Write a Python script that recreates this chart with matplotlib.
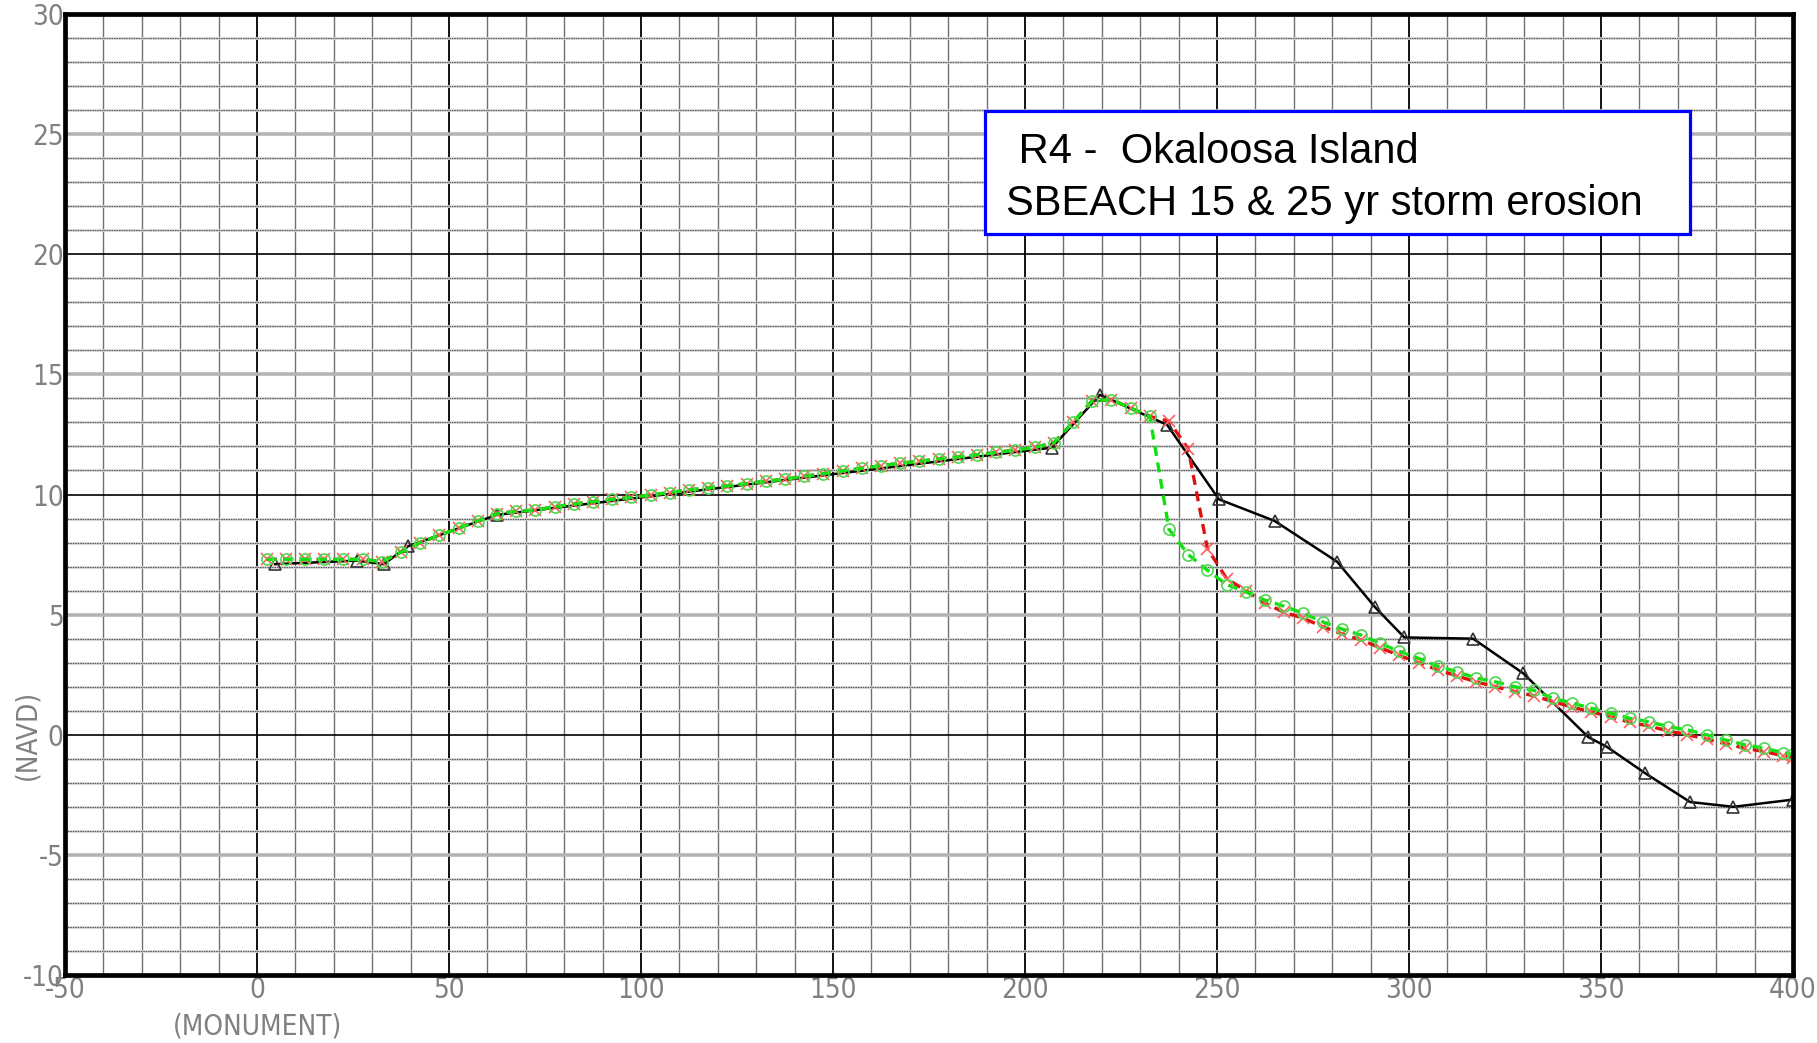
import matplotlib
matplotlib.use('Agg')
import matplotlib.pyplot as plt
from matplotlib.patches import Rectangle
import matplotlib.transforms as mtransforms
import numpy as np

# исходный профиль (съёмка) - чёрная линия с треугольниками
profile_x = [4.7, 26, 33, 39.4, 62.4, 207, 219.5, 237, 250.5, 265, 281.3,
             291.2, 298.8, 316.7, 329.8, 346.7, 351.5, 361.5, 373.2, 384.5, 400]
profile_y = [7.1, 7.25, 7.1, 7.85, 9.15, 11.95, 14.15, 12.9, 9.8, 8.9, 7.2,
             5.3, 4.05, 4.0, 2.55, -0.1, -0.5, -1.6, -2.8, -3.0, -2.7]

# узлы сетки SBEACH (шаг 5 ft)
sbeach_x = [2.5, 7.5, 12.5, 17.5, 22.5, 27.5, 32.5, 37.5, 42.5, 47.5,
            52.5, 57.5, 62.5, 67.5, 72.5, 77.5, 82.5, 87.5, 92.5, 97.5,
            102.5, 107.5, 112.5, 117.5, 122.5, 127.5, 132.5, 137.5, 142.5, 147.5,
            152.5, 157.5, 162.5, 167.5, 172.5, 177.5, 182.5, 187.5, 192.5, 197.5,
            202.5, 207.5, 212.5, 217.5, 222.5, 227.5, 232.5, 237.5, 242.5, 247.5,
            252.5, 257.5, 262.5, 267.5, 272.5, 277.5, 282.5, 287.5, 292.5, 297.5,
            302.5, 307.5, 312.5, 317.5, 322.5, 327.5, 332.5, 337.5, 342.5, 347.5,
            352.5, 357.5, 362.5, 367.5, 372.5, 377.5, 382.5, 387.5, 392.5, 397.5, 400]

# 15-летний шторм (зелёный)
storm15_y = [7.3, 7.3, 7.3, 7.3, 7.3, 7.3, 7.2, 7.6, 8.0, 8.3,
             8.6, 8.9, 9.2, 9.3, 9.35, 9.49, 9.6, 9.7, 9.8, 9.88,
             9.98, 10.08, 10.19, 10.27, 10.36, 10.45, 10.55, 10.64, 10.75, 10.87,
             10.98, 11.09, 11.2, 11.3, 11.38, 11.48, 11.56, 11.65, 11.75, 11.85,
             11.96, 12.15, 13.0, 13.9, 13.95, 13.6, 13.25, 8.55, 7.5, 6.85,
             6.25, 5.95, 5.6, 5.35, 5.05, 4.7, 4.4, 4.15, 3.8, 3.47,
             3.18, 2.85, 2.62, 2.36, 2.2, 2.0, 1.85, 1.52, 1.32, 1.1,
             0.9, 0.68, 0.54, 0.34, 0.2, 0.0, -0.22, -0.42, -0.56, -0.75, -0.82]

# 25-летний шторм (красный)
storm25_y = [7.3, 7.3, 7.3, 7.3, 7.3, 7.3, 7.2, 7.6, 8.0, 8.3,
             8.6, 8.9, 9.2, 9.3, 9.35, 9.49, 9.6, 9.7, 9.8, 9.88,
             9.98, 10.08, 10.19, 10.27, 10.36, 10.45, 10.55, 10.64, 10.75, 10.87,
             10.98, 11.09, 11.2, 11.3, 11.38, 11.48, 11.56, 11.65, 11.75, 11.85,
             11.96, 12.15, 13.0, 13.9, 13.95, 13.6, 13.25, 13.05, 11.9, 7.75,
             6.5, 6.0, 5.47, 5.1, 4.85, 4.5, 4.2, 3.95, 3.62, 3.3,
             3.0, 2.7, 2.45, 2.2, 2.0, 1.8, 1.62, 1.38, 1.15, 0.95,
             0.75, 0.52, 0.36, 0.16, 0.0, -0.18, -0.38, -0.56, -0.7, -0.88, -0.95]

x_ticks = [-50, 0, 50, 100, 150, 200, 250, 300, 350, 400]
y_ticks = [-10, -5, 0, 5, 10, 15, 20, 25, 30]

title_lines = [' R4 -  Okaloosa Island', 'SBEACH 15 & 25 yr storm erosion']

plt.rcParams['font.family'] = ['DejaVu Sans']
plt.rcParams['font.stretch'] = 'condensed'

fig = plt.figure(figsize=(18.17, 10.43), dpi=100)
ax = fig.add_axes([65 / 1817, 1 - 975 / 1043, 1728 / 1817, 961 / 1043])
ax.set_xlim(-50, 400)
ax.set_ylim(-10, 30)

# сетка в стиле CAD-чертежа
for xv in np.arange(-50, 401, 10):
    if xv % 50 == 0:
        ax.axvline(xv, color='black', lw=1.3, zorder=1)
    else:
        ax.axvline(xv, color='#707070', lw=1.0, zorder=1)
for yv in np.arange(-10, 31, 1):
    if yv % 10 == 0:
        ax.axhline(yv, color='black', lw=1.2, zorder=1)
    elif yv % 5 == 0:
        ax.axhline(yv, color='#b4b4b4', lw=2.6, zorder=1)
    else:
        ax.axhline(yv, color='#d2d2d2', lw=2.0, zorder=1)
        ax.axhline(yv, color='#555555', lw=0.7, linestyle=(0, (1.5, 1.0)), zorder=1)

# профили
ax.plot(profile_x, profile_y, color='black', lw=1.8, marker='^', ms=8,
        mfc='none', mec='#333333', mew=1.2, zorder=3)
ax.plot(sbeach_x, storm25_y, color='#e01010', lw=2.4, linestyle=(0, (3, 2)),
        marker='x', ms=8, mec='#ff6060', mew=1.2, zorder=4)
ax.plot(sbeach_x, storm15_y, color='#10e010', lw=2.4, linestyle=(0, (3, 2)),
        marker='o', ms=8, mfc='none', mec='#50d850', mew=1.2, zorder=5)

ax.set_xticks(x_ticks)
ax.set_yticks(y_ticks)
ax.set_xticklabels([str(v) for v in x_ticks])
ax.set_yticklabels([str(v) for v in y_ticks])
ax.tick_params(length=0, labelsize=20, labelcolor='#808080', pad=1)
for lbl in ax.get_xticklabels() + ax.get_yticklabels():
    lbl.set_fontweight('light')

for sp in ax.spines.values():
    sp.set_linewidth(3.4)
    sp.set_color('black')
    sp.set_zorder(6)

# подписи осей, привязанные к нулю
trans_y = mtransforms.blended_transform_factory(fig.transFigure, ax.transData)
ax.text(27 / 1817, 0, '(NAVD)', transform=trans_y, rotation=90, ha='center', va='center',
        fontsize=20, color='#808080', fontweight='light')
trans_x = mtransforms.blended_transform_factory(ax.transData, fig.transFigure)
ax.text(0, 1 - 1026 / 1043, '(MONUMENT)', transform=trans_x, ha='center', va='center',
        fontsize=20, color='#808080', fontweight='light')

# рамка с заголовком
fig.patches.append(Rectangle((985 / 1817, 1 - 234 / 1043), 705 / 1817, 123 / 1043,
                             transform=fig.transFigure, facecolor='white',
                             edgecolor='#0000ff', lw=2.3, zorder=10))
fig.text(1007 / 1817, 1 - 163 / 1043, title_lines[0], fontsize=30,
         family='Liberation Sans', fontstretch='normal', va='baseline', zorder=11)
fig.text(1006 / 1817, 1 - 215 / 1043, title_lines[1], fontsize=30,
         family='Liberation Sans', fontstretch='normal', va='baseline', zorder=11)

fig.savefig('out.png', dpi=100)
